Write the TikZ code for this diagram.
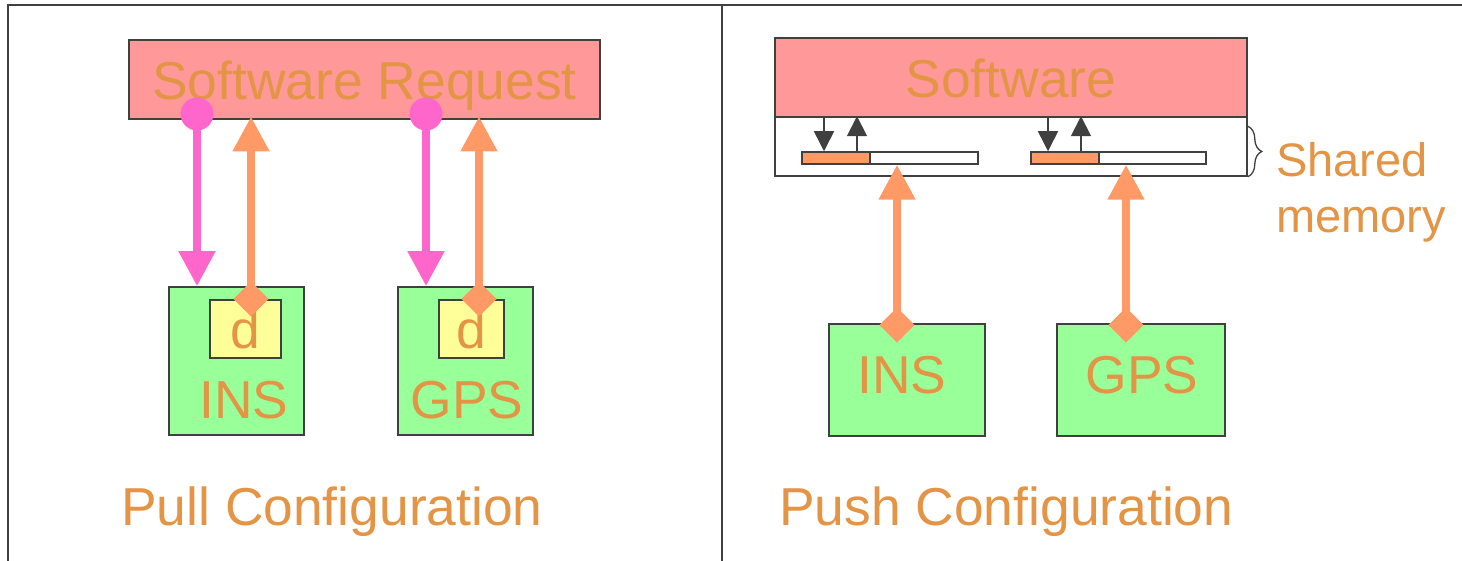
\documentclass[tikz,border=0pt]{standalone}
\usepackage{fontspec}
\setmainfont{Liberation Sans}
\usetikzlibrary{arrows.meta,shapes.geometric,decorations.pathreplacing,calc}
\definecolor{txtor}{HTML}{E39444}
\definecolor{pinkbox}{HTML}{FF9999}
\definecolor{greenbox}{HTML}{99FF99}
\definecolor{yellowbox}{HTML}{FFFF99}
\definecolor{orarrow}{HTML}{FF9966}
\definecolor{magarrow}{HTML}{FF66CC}
\definecolor{edge}{HTML}{404040}
\tikzset{
  bigtext/.style={font=\fontsize{53.4}{60}\selectfont, text=txtor, inner sep=0pt},
  smalltext/.style={font=\fontsize{47}{56}\selectfont, text=txtor, inner sep=0pt},
  swbox/.style={draw=edge, line width=2pt, fill=pinkbox, inner sep=0pt, bigtext, text depth=0pt},
  unitbox/.style={draw=edge, line width=1.6pt, fill=greenbox, inner sep=0pt},
  dbox/.style={draw=edge, line width=1.6pt, fill=yellowbox, inner sep=0pt, bigtext},
  membox/.style={draw=edge, line width=1.6pt, fill=white, inner sep=0pt},
  barbox/.style={draw=edge, line width=1.5pt, fill=white, inner sep=0pt},
  barfill/.style={draw=edge, line width=1.5pt, fill=orarrow, inner sep=0pt},
  diam/.style={diamond, aspect=1, fill=orarrow, inner sep=0pt, minimum width=35pt, minimum height=35pt},
  dot/.style={circle, fill=magarrow, inner sep=0pt, minimum size=33pt},
  pusharrow/.style={draw=orarrow, line width=8pt, -{Triangle[width=35pt,length=35pt]}},
  pullarrow/.style={draw=magarrow, line width=8pt, -{Triangle[width=35pt,length=35pt]}},
  smarrow/.style={draw=edge, line width=1.5pt, -{Triangle[width=20pt,length=20pt]}},
  frame/.style={draw=edge, line width=2pt},
}
\begin{document}
\begin{tikzpicture}[x=1pt,y=-1pt]
\useasboundingbox (0,0) rectangle (1462,561);
% frame
\draw[frame] (8,561) -- (8,5) -- (1462,5);
\draw[frame] (722,5) -- (722,561);

% ---------- Pull configuration ----------
\node[swbox, minimum width=471pt, minimum height=79pt] (swreq) at (364.5,80) {Software Request};
\node[unitbox, minimum width=135pt, minimum height=148pt] (insP) at (236.5,361) {};
\node[unitbox, minimum width=135pt, minimum height=148pt] (gpsP) at (465.5,361) {};
\node[dbox, minimum width=71pt, minimum height=58pt] (dI) at (245.5,329) {d};
\node[dbox, minimum width=65pt, minimum height=58pt] (dG) at (471.5,329) {d};
\node[bigtext, anchor=base] (insPlab) at (244,418) {INS};
\node[bigtext, anchor=base] (gpsPlab) at (467,418) {GPS};

\node[dot] (c1) at (197,114) {};
\node[dot] (c2) at (426,114) {};
\draw[pullarrow] (c1.center) -- (insP.north -| c1);
\draw[pullarrow] (c2.center) -- (gpsP.north -| c2);

\node[diam] (pd1) at (251,299) {};
\node[diam] (pd2) at (479,299) {};
\draw[pusharrow, shorten >=-4pt] (pd1.center) -- (swreq.south -| pd1);
\draw[pusharrow, shorten >=-4pt] (pd2.center) -- (swreq.south -| pd2);
\node[diam] at (pd1) {};
\node[diam] at (pd2) {};

\node[bigtext, anchor=base west] (pulllab) at (121,525) {Pull Configuration};

% ---------- Push configuration ----------
\node[swbox, minimum width=472pt, minimum height=80pt] (sw) at (1011,78) {Software};
\node[membox, minimum width=472pt, minimum height=59pt] (shm) at (1011,146.5) {};
\node[barbox, minimum width=176pt, minimum height=12pt] (bar1) at (890,158) {};
\node[barfill, minimum width=68pt, minimum height=12pt] (bar1o) at (836,158) {};
\node[barbox, minimum width=175pt, minimum height=12pt] (bar2) at (1118.5,158) {};
\node[barfill, minimum width=68pt, minimum height=12pt] (bar2o) at (1065,158) {};

\coordinate (a1) at (824,0);
\coordinate (a2) at (857,0);
\coordinate (a3) at (1048,0);
\coordinate (a4) at (1081,0);
\draw[smarrow] (shm.north -| a1) -- (bar1.north -| a1);
\draw[smarrow] (bar1.north -| a2) -- (shm.north -| a2);
\draw[smarrow] (shm.north -| a3) -- (bar2.north -| a3);
\draw[smarrow] (bar2.north -| a4) -- (shm.north -| a4);

\node[unitbox, minimum width=156pt, minimum height=112pt] (insQ) at (907,380) {};
\node[unitbox, minimum width=168pt, minimum height=112pt] (gpsQ) at (1141,380) {};
\node[bigtext, anchor=base] (insQlab) at (902,393) {INS};
\node[bigtext, anchor=base] (gpsQlab) at (1142,393) {GPS};

\node[diam] (qd1) at (897,325) {};
\node[diam] (qd2) at (1126,325) {};
\draw[pusharrow] (qd1.center) -- (bar1.south -| qd1);
\draw[pusharrow] (qd2.center) -- (bar2.south -| qd2);
\node[diam] at (qd1) {};
\node[diam] at (qd2) {};

\draw[edge, line width=1.3pt, decorate, decoration={brace, amplitude=14pt}]
  ($(shm.north east)+(0,10)$) -- (shm.south east);
\node[smalltext, anchor=base west] (sh1) at (1276,177) {Shared};
\node[smalltext, anchor=base west] (sh2) at (1276,233) {memory};

\node[bigtext, anchor=base west] (pushlab) at (779,525) {Push Configuration};
\end{tikzpicture}
\end{document}
